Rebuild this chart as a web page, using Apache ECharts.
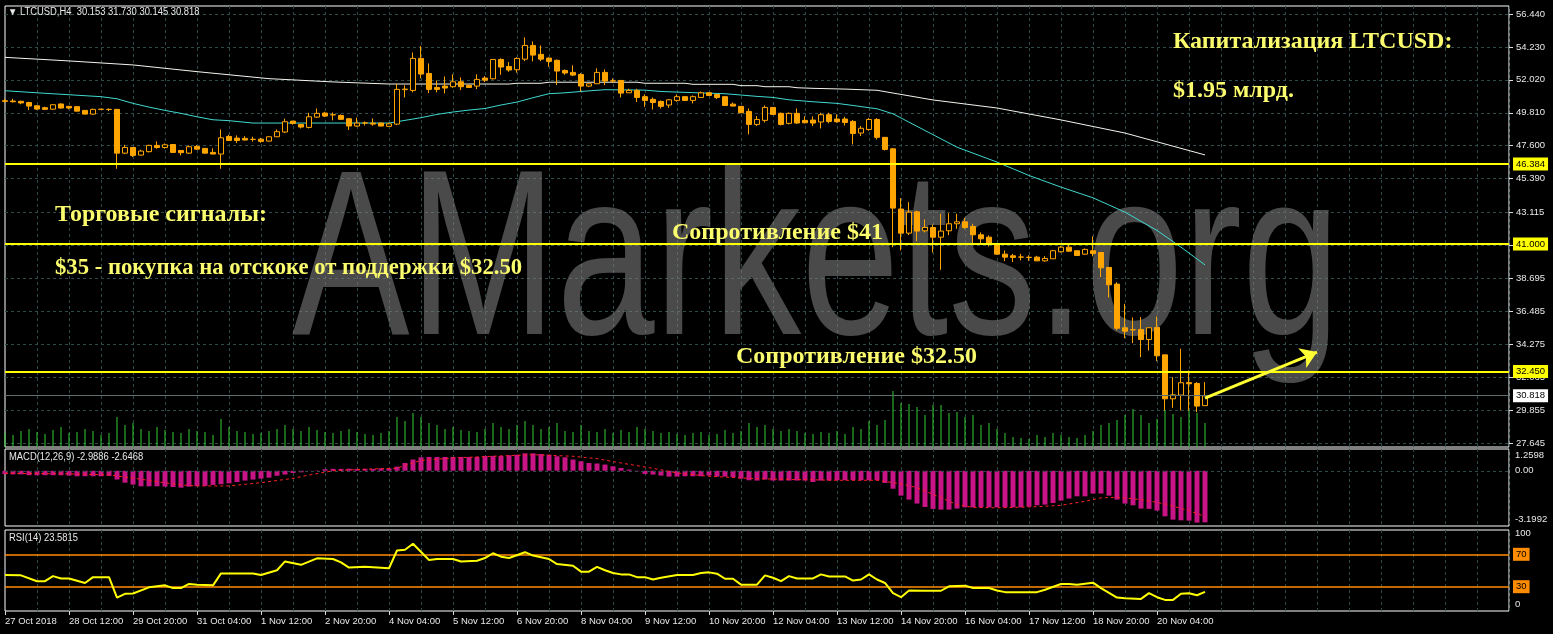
<!DOCTYPE html>
<html><head><meta charset="utf-8">
<script src="https://cdn.jsdelivr.net/npm/echarts@6/dist/echarts.min.js"></script>
<style>html,body{margin:0;padding:0;background:#000;overflow:hidden}#c{width:1553px;height:634px}</style>
</head><body><div id="c"></div>
<script>
// ---- tick labels ----
const timeLabels = ['27 Oct 2018','28 Oct 12:00','29 Oct 20:00','31 Oct 04:00','1 Nov 12:00','2 Nov 20:00','4 Nov 04:00','5 Nov 12:00','6 Nov 20:00','8 Nov 04:00','9 Nov 12:00','10 Nov 20:00','12 Nov 04:00','13 Nov 12:00','14 Nov 20:00','16 Nov 04:00','17 Nov 12:00','18 Nov 20:00','20 Nov 04:00'];
const priceTicks = [56.440,54.230,52.020,49.810,47.600,45.390,43.115,38.695,36.485,34.275,32.065,29.855,27.645];
const priceGridOnly = [40.905];
const levels = [46.384, 41.000, 32.450];
const lastPrice = 30.818;
const slotCount = 189;

// ---- H4 candles: [open, high, low, close] ----
const candles = [
[50.62,50.75,50.50,50.58],[50.60,50.75,50.50,50.55],[50.58,50.62,50.38,50.47],[50.50,50.55,49.99,50.26],[50.28,50.30,49.99,50.06],
[50.15,50.22,49.99,50.04],[50.05,50.38,50.02,50.35],[50.40,50.44,50.08,50.13],[50.24,50.27,50.04,50.13],[50.22,50.24,49.90,49.92],
[49.97,49.99,49.70,49.72],[49.72,50.09,49.68,50.04],[50.04,50.06,50.02,50.05],[50.03,50.10,49.92,50.04],[50.04,50.06,46.05,47.10],
[47.10,47.66,47.03,47.48],[47.48,47.48,46.84,46.95],[46.97,47.33,46.95,47.24],[47.20,47.66,47.15,47.62],[47.62,47.89,47.40,47.48],
[47.48,47.75,47.40,47.66],[47.68,47.70,47.13,47.15],[47.28,47.30,46.95,47.13],[47.10,47.62,47.04,47.53],[47.55,47.64,47.35,47.37],
[47.42,47.44,47.10,47.10],[47.15,47.42,47.02,47.04],[47.04,48.69,46.05,48.13],[48.22,48.33,47.93,47.95],[48.11,48.29,47.78,47.95],
[48.09,48.24,47.96,47.98],[48.02,48.20,47.87,48.03],[48.04,48.13,47.80,47.89],[47.91,48.22,47.88,48.20],[48.20,48.69,48.18,48.54],
[48.52,49.41,48.45,49.21],[49.25,49.25,49.01,49.10],[49.03,49.05,48.76,48.85],[48.83,49.81,48.76,49.54],[49.52,50.10,49.47,49.77],
[49.79,49.88,49.52,49.59],[49.68,49.83,49.30,49.67],[49.63,49.70,49.35,49.37],[49.41,49.43,48.65,48.92],[48.92,49.48,48.87,49.12],
[49.12,49.23,48.96,49.13],[49.12,49.43,48.94,49.05],[49.12,49.14,48.90,48.92],[48.90,49.14,48.88,49.07],[49.05,51.76,48.98,51.38],
[51.36,51.65,50.84,51.40],[51.31,53.86,51.18,53.46],[53.46,54.29,52.12,52.41],[52.45,53.12,51.13,51.38],[51.51,51.98,51.18,51.38],
[51.60,52.25,51.11,51.47],[51.56,52.39,51.49,51.89],[51.89,52.18,51.33,51.56],[51.65,51.70,51.47,51.51],[51.60,52.39,51.40,52.05],
[52.14,52.27,51.87,52.00],[52.09,53.41,52.05,53.39],[53.39,53.46,52.36,52.88],[52.92,53.21,52.56,52.68],[52.70,53.53,52.50,53.46],
[53.41,54.87,53.28,54.33],[54.33,54.60,53.26,53.68],[53.73,54.33,53.28,53.41],[53.48,53.53,52.90,53.26],[53.33,53.39,51.67,52.61],
[52.65,52.72,52.36,52.48],[52.52,52.99,52.27,52.34],[52.38,52.47,51.24,51.60],[51.60,51.76,51.53,51.76],[51.76,52.79,51.76,52.52],
[52.52,52.72,51.67,51.94],[51.94,52.12,51.80,51.96],[51.98,51.98,50.84,51.13],[51.15,51.42,51.15,51.31],[51.31,51.42,50.53,50.84],
[50.89,51.04,50.21,50.64],[50.71,50.84,50.03,50.50],[50.57,50.64,50.10,50.24],[50.33,50.71,50.15,50.68],[50.64,51.04,50.55,50.89],
[50.89,50.93,50.62,50.64],[50.64,50.97,50.44,50.89],[50.84,51.24,50.84,51.15],[51.15,51.17,50.97,50.97],[51.04,51.06,50.73,50.84],
[50.89,50.91,50.26,50.30],[50.39,50.50,50.24,50.26],[50.24,50.26,49.79,49.81],[49.90,50.10,48.36,49.03],[49.03,49.59,48.92,49.36],
[49.30,50.30,49.16,50.17],[50.17,50.17,49.68,49.70],[49.77,49.83,48.96,49.03],[49.10,49.83,49.03,49.77],[49.77,50.10,49.07,49.12],
[49.30,49.57,49.10,49.14],[49.32,49.57,48.92,49.12],[49.19,49.81,48.76,49.68],[49.68,49.81,49.10,49.23],[49.39,49.70,49.14,49.21],
[49.39,49.54,48.96,49.16],[49.23,49.32,47.69,48.42],[48.45,48.92,48.25,48.77],[48.69,49.45,48.60,49.36],[49.36,49.45,48.02,48.16],
[48.16,48.18,47.28,47.35],[47.39,47.45,40.79,43.41],[43.35,44.08,40.57,41.73],[41.73,43.81,41.60,43.14],[43.16,43.25,41.19,41.87],
[41.89,42.65,41.78,42.11],[42.11,42.31,40.43,41.46],[41.46,43.03,39.27,41.87],[41.89,43.07,41.60,42.36],[42.36,43.03,42.02,42.49],
[42.49,42.76,42.02,42.11],[42.18,42.36,41.02,41.62],[41.62,41.78,41.02,41.35],[41.46,41.58,40.84,41.06],[40.93,41.00,40.30,40.32],
[40.32,40.57,39.85,40.12],[40.21,40.34,39.79,40.10],[40.12,40.34,39.90,40.13],[40.10,40.25,39.87,40.11],[40.12,40.21,39.87,39.87],
[39.87,40.19,39.81,40.03],[40.01,40.61,40.01,40.55],[40.48,40.88,40.43,40.79],[40.79,40.93,40.48,40.52],[40.55,40.55,40.23,40.23],
[40.32,40.70,40.28,40.64],[40.55,41.51,40.17,40.37],[40.43,40.43,38.78,39.40],[39.43,39.43,37.41,38.26],[38.31,38.44,35.20,35.35],
[35.38,36.99,34.68,35.15],[35.24,36.07,34.35,35.25],[35.26,36.10,33.41,34.59],[34.59,35.38,33.85,35.38],[35.40,36.14,33.14,33.50],
[33.56,33.56,29.83,30.61],[30.61,32.06,30.01,30.88],[30.86,33.97,29.83,31.69],[31.70,32.51,29.83,31.62],[31.64,31.73,29.72,30.12],
[30.153,31.730,30.145,30.818]
];

// ---- moving averages: [bar, value] read at points ----
const whiteMA = [[0,53.53],[8,53.29],[16,53.02],[24,52.57],[33,52.10],[41,51.88],[48,51.74],[63,51.74],[64,51.79],[67,51.79],[68,51.86],[79,51.86],[80,51.79],[85,51.79],[86,51.72],[91,51.72],[92,51.63],[94,51.63],[95,51.56],[98,51.56],[99,51.49],[101,51.45],[105,51.40],[107,51.36],[109,51.32],[116,50.67],[124,50.13],[132,49.33],[140,48.45],[150,46.98]];
const cyanMA = [[0,51.29],[4,51.15],[8,51.02],[12,50.89],[14,50.75],[16,50.44],[18,50.19],[20,49.97],[22,49.77],[24,49.54],[26,49.34],[28,49.28],[31,49.12],[39,49.12],[48,49.12],[50,49.30],[52,49.48],[54,49.70],[56,49.86],[58,49.99],[60,50.10],[62,50.33],[64,50.53],[66,50.82],[68,51.09],[70,51.15],[72,51.24],[75,51.36],[80,51.33],[82,51.24],[85,51.18],[90,51.09],[92,51.00],[94,50.91],[96,50.84],[98,50.68],[101,50.55],[104,50.44],[106,50.30],[108,50.15],[109,50.08],[111,49.74],[115,48.62],[119,47.50],[124,46.50],[128,45.60],[132,44.82],[136,44.10],[140,43.14],[144,41.91],[147,40.79],[150,39.60]];

// ---- tick volume (hundreds) ----
const volume = [14,12,16,18,15,13,17,20,14,15,18,16,12,14,30,22,24,18,16,20,17,15,14,18,16,15,12,28,20,16,15,13,14,16,18,22,18,16,20,17,15,14,16,18,15,13,12,14,16,30,26,34,30,24,22,18,20,17,16,15,18,24,20,18,22,26,22,18,20,24,16,15,22,16,15,18,14,17,15,20,18,16,14,15,13,12,14,15,12,13,17,14,16,24,20,22,18,16,18,16,14,13,15,14,16,13,20,18,26,22,27,56,44,43,40,32,42,42,34,35,30,32,22,24,18,14,10,9,8,12,10,14,12,10,9,12,16,22,24,27,32,38,32,24,28,37,33,30,37,34,24];

// ---- MACD(12,26,9) ----
const macdHist = [-0.20,-0.21,-0.21,-0.26,-0.26,-0.26,-0.26,-0.26,-0.28,-0.32,-0.32,-0.32,-0.32,-0.30,
-0.51,-0.69,-0.80,-0.90,-0.90,-0.90,-0.92,-0.94,-0.98,-0.92,-0.90,-0.88,-0.82,-0.78,
-0.73,-0.65,-0.57,-0.51,-0.46,-0.40,-0.29,-0.22,-0.13,-0.09,0.01,0.02,0.09,0.11,
0.11,0.12,0.11,0.11,0.11,0.14,0.14,0.24,0.45,0.65,0.78,0.80,0.80,0.80,
0.80,0.80,0.80,0.80,0.86,0.86,0.86,0.90,0.93,1.01,1.01,0.97,0.93,0.84,
0.78,0.65,0.55,0.45,0.42,0.36,0.26,0.16,0.07,-0.03,-0.19,-0.22,-0.28,-0.34,
-0.34,-0.32,-0.32,-0.32,-0.28,-0.34,-0.34,-0.38,-0.46,-0.55,-0.57,-0.51,-0.57,-0.57,
-0.57,-0.57,-0.57,-0.65,-0.57,-0.57,-0.55,-0.55,-0.55,-0.55,-0.55,-0.55,-0.71,-1.04,
-1.44,-1.67,-1.90,-2.10,-2.21,-2.25,-2.25,-2.19,-2.12,-2.12,-2.12,-2.12,-2.12,-2.12,
-2.12,-2.12,-2.08,-2.00,-1.96,-1.87,-1.73,-1.61,-1.48,-1.48,-1.32,-1.32,-1.44,-1.67,
-1.90,-2.00,-2.19,-2.21,-2.31,-2.64,-2.83,-2.87,-2.89,-3.00,-2.9886];
const macdSignal = [[0,-0.15],[8,-0.18],[13,-0.24],[17,-0.49],[19,-0.63],[22,-0.82],[24,-0.88],[28,-0.88],[32,-0.69],[36,-0.44],[38,-0.25],[41,0.0],[45,0.09],[49,0.15],[50,0.31],[52,0.60],[56,0.74],[61,0.84],[66,0.93],[71,0.84],[74,0.70],[77,0.45],[82,0.06],[84,-0.13],[88,-0.32],[94,-0.46],[99,-0.51],[104,-0.55],[109,-0.55],[112,-0.76],[114,-0.98],[117,-1.56],[119,-1.96],[121,-2.12],[124,-2.15],[129,-2.08],[132,-2.00],[135,-1.77],[137,-1.57],[139,-1.54],[142,-1.67],[145,-1.92],[148,-2.31],[150,-2.6468]];

// ---- RSI(14) ----
const rsi = [[0,44.4],[2,44.0],[4,36.8],[5,36.8],[6,43.1],[7,40.2],[8,40.2],[10,34.6],[11,41.8],[13,41.8],[14,16.6],[15,21.2],[16,21.6],[18,29.2],[20,31.7],[21,28.3],[22,28.3],[23,33.4],[24,32.5],[26,31.7],[27,46.4],[29,46.4],[31,46.4],[32,44.4],[34,50.3],[35,61.2],[37,57.0],[39,65.0],[41,64.2],[42,60.0],[43,53.6],[45,54.5],[48,52.8],[49,74.7],[50,75.6],[51,83.1],[53,62.9],[54,64.2],[56,64.2],[57,61.2],[59,62.1],[60,65.4],[61,71.3],[62,67.1],[63,65.4],[65,72.6],[66,68.4],[68,64.2],[69,57.9],[71,55.8],[72,48.6],[73,48.6],[74,54.5],[75,50.3],[76,47.0],[77,45.2],[78,45.2],[79,41.8],[80,41.8],[81,38.9],[82,41.0],[84,44.4],[86,44.4],[87,46.9],[88,47.7],[89,46.1],[90,39.8],[91,39.8],[92,32.5],[94,32.5],[95,44.0],[96,41.0],[97,36.8],[98,43.1],[99,40.2],[101,40.2],[102,45.2],[103,42.7],[105,42.7],[106,37.6],[107,38.9],[108,45.2],[109,38.9],[110,34.6],[111,22.0],[112,17.0],[113,25.4],[115,25.0],[117,25.0],[118,30.5],[120,31.3],[121,28.3],[123,28.3],[124,25.4],[125,23.3],[129,23.3],[130,26.2],[132,33.4],[133,33.4],[134,32.5],[136,35.0],[137,28.3],[139,16.6],[140,15.7],[142,14.9],[143,22.0],[144,17.0],[145,13.7],[146,13.7],[147,21.2],[148,22.0],[149,19.5],[150,23.58]];
const rsiLevels = [70, 30];

// ---- annotations ----
const arrowFrom = [150, 30.66], arrowTo = [164, 33.75];

const cats = Array.from({length: slotCount}, (_, i) => String(i));
const FONT = '"Liberation Sans", Arial, sans-serif';
const AX_FS = 9.5;
const GRID_LINE = {color: '#2e4a4a', type: [3, 3], width: 1};
const splitInt = (i) => i > 0 && i % 4 === 0;

function xAxisFor(gi, bottom) {
  return {
    type: 'category', gridIndex: gi, data: cats, boundaryGap: false,
    axisLine: {show: false},
    axisTick: bottom ? {show: true, interval: (i) => i % 8 === 0 && i / 8 < timeLabels.length, length: 4, lineStyle: {color: '#ddd'}} : {show: false},
    axisLabel: bottom ? {show: true, interval: (i) => i % 8 === 0 && i / 8 < timeLabels.length,
      formatter: (v, i) => timeLabels[i / 8] || '', color: '#e8e8e8', fontSize: AX_FS, fontFamily: FONT, align: 'left', margin: 5} : {show: false},
    splitLine: gi === 1 ? {show: false} : {show: true, interval: splitInt, lineStyle: GRID_LINE}
  };
}

const boxLabel = (t, bg) => ({show: true, position: 'end', formatter: t, backgroundColor: bg, color: '#000', padding: [2, 3, 1, 3], fontSize: AX_FS, fontFamily: FONT, distance: 4});
const NOTE_FONT = 'bold 24px "Liberation Serif", serif';
const NOTE_COLOR = '#fbfb6e';
const SMALL_FONT = '10px "Liberation Sans", "DejaVu Sans", sans-serif';

const option = {
  backgroundColor: '#000',
  animation: false,
  grid: [
    {left: 5, width: 1504, top: 6, height: 441, show: true, borderColor: '#ffffff', borderWidth: 1, backgroundColor: 'transparent'},
    {left: 5, width: 1504, top: 347, height: 100, show: false},
    {left: 5, width: 1504, top: 449, height: 77, show: true, borderColor: '#ffffff', borderWidth: 1, backgroundColor: 'transparent'},
    {left: 5, width: 1504, top: 530, height: 81, show: true, borderColor: '#ffffff', borderWidth: 1, backgroundColor: 'transparent'}
  ],
  xAxis: [xAxisFor(0, false), xAxisFor(1, false), xAxisFor(2, false), xAxisFor(3, true)],
  yAxis: [
    {gridIndex: 0, type: 'value', position: 'right', min: 27.376, max: 56.977,
      axisLine: {show: false},
      axisTick: {show: true, customValues: priceTicks.concat(priceGridOnly), length: 4, lineStyle: {color: '#ddd'}},
      axisLabel: {customValues: priceTicks, formatter: (v) => v.toFixed(3), color: '#e8e8e8', fontSize: AX_FS, fontFamily: FONT, margin: 7},
      splitLine: {show: true, lineStyle: GRID_LINE}},
    {gridIndex: 1, type: 'value', min: 0, max: 100, show: false},
    {gridIndex: 2, type: 'value', position: 'right', min: -3.1992, max: 1.2598,
      axisLine: {show: false}, axisTick: {show: false}, splitLine: {show: false},
      axisLabel: {customValues: [0.915, 0, -2.79], formatter: (v) => v > 0.5 ? '1.2598' : (v < -1 ? '-3.1992' : '0.00'), color: '#e8e8e8', fontSize: AX_FS, fontFamily: FONT, margin: 6}},
    {gridIndex: 3, type: 'value', position: 'right', min: 0, max: 100,
      axisLine: {show: false}, axisTick: {show: false}, splitLine: {show: false},
      axisLabel: {customValues: [95.3, 8.2], formatter: (v) => v > 50 ? '100' : '0', color: '#e8e8e8', fontSize: AX_FS, fontFamily: FONT, margin: 6}}
  ],
  series: [
    {type: 'candlestick', xAxisIndex: 0, yAxisIndex: 0, barWidth: 5, clip: false, z: 5,
      data: candles.map(c => [c[0], c[3], c[2], c[1]]),
      itemStyle: {color: '#000000', color0: '#ffa500', borderColor: '#ffa500', borderColor0: '#ffa500', borderColorDoji: '#ffa500', borderWidth: 1},
      markLine: {silent: true, symbol: 'none', z: 6,
        data: levels.map(v => ({yAxis: v, lineStyle: {color: '#ffff00', width: 2, type: 'solid'}, label: boxLabel(v.toFixed(3), '#ffff00')}))
          .concat([{yAxis: lastPrice, lineStyle: {color: '#5d6f6f', width: 1, type: 'solid'}, label: boxLabel(lastPrice.toFixed(3), '#ffffff')}])}},
    {type: 'line', xAxisIndex: 0, yAxisIndex: 0, data: whiteMA, symbol: 'none', z: 4,
      lineStyle: {color: '#f4f4ee', width: 1},
      markLine: {silent: true, symbol: ['none', 'arrow'], symbolSize: 16, z: 20,
        lineStyle: {color: '#ffff33', width: 3, type: 'solid'}, label: {show: false},
        data: [[{coord: arrowFrom}, {coord: arrowTo}]]}},
    {type: 'line', xAxisIndex: 0, yAxisIndex: 0, data: cyanMA, symbol: 'none', z: 4,
      lineStyle: {color: '#40d8d0', width: 1}},
    {type: 'bar', xAxisIndex: 1, yAxisIndex: 1, data: volume, barWidth: 1, z: 3,
      itemStyle: {color: '#32cd32'}},
    {type: 'bar', xAxisIndex: 2, yAxisIndex: 2, data: macdHist, barWidth: 5,
      itemStyle: {color: '#c71585'},
      markLine: {silent: true, symbol: 'none', label: {show: false},
        data: [{yAxis: 0, lineStyle: {color: '#2e4a4a', type: [3, 3], width: 1}}]}},
    {type: 'line', xAxisIndex: 2, yAxisIndex: 2, data: macdSignal, symbol: 'none', z: 5,
      lineStyle: {color: '#ff2020', width: 1, type: [3, 3]}},
    {type: 'line', xAxisIndex: 3, yAxisIndex: 3, data: rsi, symbol: 'none', z: 5,
      lineStyle: {color: '#ffff00', width: 2},
      markLine: {silent: true, symbol: 'none', z: 3,
        data: rsiLevels.map(v => ({yAxis: v, lineStyle: {color: '#ff8c00', width: 1.5, type: 'solid'}, label: boxLabel(String(v), '#ff8c00')}))}}
  ],
  graphic: {elements: [
    {type: 'text', x: 292, y: 269, scaleX: 0.75, z: 1, silent: true,
      style: {text: 'AMarkets.org', font: '235px "Liberation Sans", Arial, sans-serif', fill: 'rgba(128,128,128,0.58)', align: 'left', verticalAlign: 'middle'}},
    {type: 'text', x: 8, y: 12, scaleX: 0.94, z: 100, silent: true,
      style: {text: '\u25BC LTCUSD,H4  30.153 31.730 30.145 30.818', font: SMALL_FONT, fill: '#e8e8e8', verticalAlign: 'middle'}},
    {type: 'text', x: 9, y: 457, scaleX: 0.94, z: 100, silent: true,
      style: {text: 'MACD(12,26,9) -2.9886 -2.6468', font: SMALL_FONT, fill: '#e8e8e8', verticalAlign: 'middle'}},
    {type: 'text', x: 9, y: 538, scaleX: 0.94, z: 100, silent: true,
      style: {text: 'RSI(14) 23.5815', font: SMALL_FONT, fill: '#e8e8e8', verticalAlign: 'middle'}},
    {type: 'text', x: 1173, y: 42, z: 100, silent: true,
      style: {text: 'Капитализация LTCUSD:', font: NOTE_FONT, fill: NOTE_COLOR, verticalAlign: 'middle'}},
    {type: 'text', x: 1173, y: 91, z: 100, silent: true,
      style: {text: '$1.95 млрд.', font: NOTE_FONT, fill: NOTE_COLOR, verticalAlign: 'middle'}},
    {type: 'text', x: 55, y: 215, z: 100, silent: true,
      style: {text: 'Торговые сигналы:', font: NOTE_FONT, fill: NOTE_COLOR, verticalAlign: 'middle'}},
    {type: 'text', x: 55, y: 268, z: 100, silent: true,
      style: {text: '$35 - покупка на отскоке от поддержки $32.50', font: 'bold 22.7px "Liberation Serif", serif', fill: NOTE_COLOR, verticalAlign: 'middle'}},
    {type: 'text', x: 672, y: 233, z: 100, silent: true,
      style: {text: 'Сопротивление $41', font: NOTE_FONT, fill: NOTE_COLOR, verticalAlign: 'middle'}},
    {type: 'text', x: 736, y: 357, z: 100, silent: true,
      style: {text: 'Сопротивление $32.50', font: NOTE_FONT, fill: NOTE_COLOR, verticalAlign: 'middle'}}
  ]}
};

const chart = echarts.init(document.getElementById('c'), null, {renderer: 'canvas'});
chart.setOption(option);
</script>
</body></html>
